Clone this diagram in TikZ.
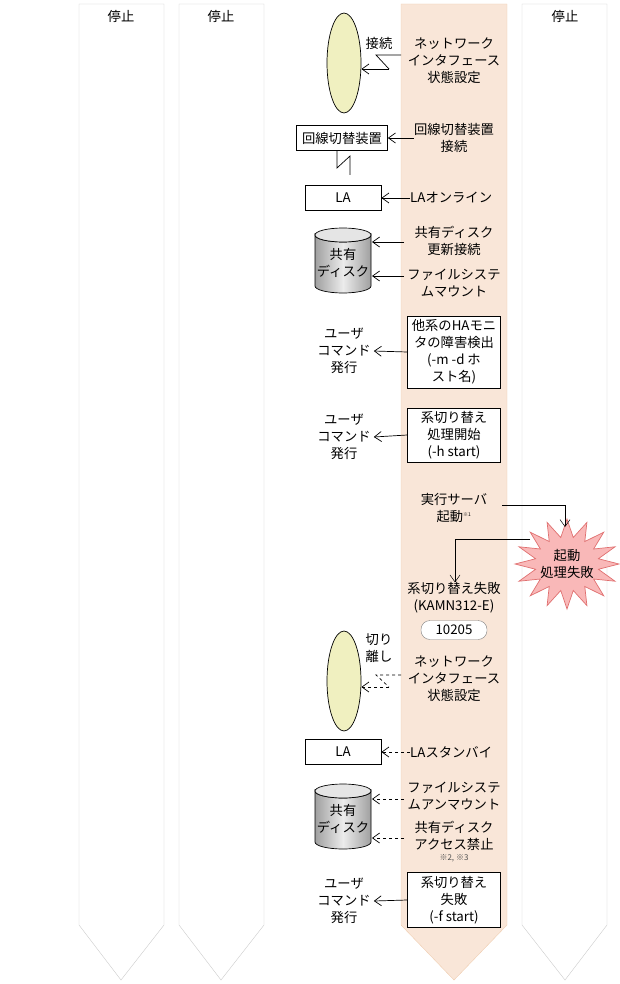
\documentclass[tikz,border=0pt]{standalone}
\usepackage{fontspec}
\setmainfont{Noto Sans CJK JP}
\usetikzlibrary{arrows.meta,shapes.geometric}
\definecolor{lane}{HTML}{CCCCCC}
\definecolor{olane}{HTML}{F9E6D8}
\definecolor{oedge}{HTML}{EFCDB0}
\definecolor{ell}{HTML}{F0F0C0}
\definecolor{burst}{HTML}{F9B8B8}
\definecolor{burstd}{HTML}{E07070}
\tikzset{x=1pt,y=-1pt,
 txt/.style={font=\fontsize{13.3}{17}\selectfont,align=center,inner sep=0},
 box/.style={draw,fill=white,line width=0.7pt},
 arr/.style={-{Straight Barb[length=7pt,width=10pt]},line width=0.7pt},
 darr/.style={arr,dashed},
 ell1/.style={draw,fill=ell,ellipse,minimum width=34pt,minimum height=100pt,line width=0.7pt},
 cylbody/.style={draw,line width=0.7pt,left color=gray!75,right color=gray!75,middle color=gray!15,shading angle=90}}
\newcommand{\mycyl}[2]{% center x, top y
  \path[cylbody] (#1-28,#2+7) -- (#1-28,#2+58) arc[start angle=180,end angle=360,x radius=28,y radius=-7] -- (#1+28,#2+7) arc[start angle=0,end angle=180,x radius=28,y radius=7] -- cycle;
  \draw[line width=0.7pt,fill=gray!20] (#1,#2+7) ellipse[x radius=28,y radius=7];}
\begin{document}
\begin{tikzpicture}
\useasboundingbox (0,0) rectangle (620,984);
\foreach \a/\b/\c in {79/164/121,179/264/221,522/607/565}
  \draw[lane,fill=white] (\a,4) -- (\b,4) -- (\b,925) -- (\c,980) -- (\a,925) -- cycle;
\draw[oedge,fill=olane] (401,4) -- (507,4) -- (507,925) -- (454,980) -- (401,925) -- cycle;
\node[txt] (h1) at (121,16) {停止};
\node[txt] (h2) at (221,16) {停止};
\node[txt] (h4) at (565,16) {停止};
% network 1
\node[ell1] (e1) at (344,63) {};
\node[txt] (c1) at (379,43) {接続};
\node[txt] (n1) at (454,61) {ネットワーク\\インタフェース\\状態設定};
\coordinate (z1) at (376,55); \coordinate (z2) at (389,69);
\draw[line width=0.7pt] (401,55) -- (z1) -- (z2);
\draw[arr] (z2) -- (e1.east|-z2);
% line switch
\node[box,txt,minimum width=91pt,minimum height=25pt] (sw) at (342,138) {回線切替装置};
\node[txt] (swt) at (454,138) {回線切替装置\\接続};
\draw[arr] (swt.west) -- (sw.east);
\node[box,txt,minimum width=76pt,minimum height=25pt] (la1) at (343,198) {LA};
\draw[line width=0.7pt] (337,151) -- (337,168) -- (350,156) -- (350,175);
\node[txt,anchor=west] (lat) at (410,198) {LAオンライン};
\draw[arr] (lat.west) -- (la1.east);
% disk 1
\mycyl{343}{228}
\node[txt] (d1) at (343,263) {共有\\ディスク};
\node[txt] (dk1) at (454,241) {共有ディスク\\更新接続};
\node[txt] (fs1) at (454,283) {ファイルシステ\\ムマウント};
\draw[arr] (404,242) -- (372,242);
\draw[arr] (404,276) -- (372,276);
% HA monitor
\node[box,txt,minimum width=93pt,minimum height=72pt] (ha) at (454,352) {他系のHAモニ\\タの障害検出\\(-m -d ホ\\スト名)};
\node[txt] (u1) at (344,351) {ユーザ\\コマンド\\発行};
\draw[arr] (ha.west) -- ([xshift=3pt]u1.east);
\node[box,txt,minimum width=93pt,minimum height=54pt] (st) at (454,435) {系切り替え\\処理開始\\(-h start)};
\node[txt] (u2) at (344,437) {ユーザ\\コマンド\\発行};
\draw[arr] (st.west) -- ([xshift=3pt]u2.east);
% exec server
\node[txt] (ex) at (454,508) {実行サーバ\\起動\textsuperscript{\tiny ※1}};
\draw[draw=burstd,fill=burst,line width=0.7pt]
  plot[samples at={0,...,31}] ({567+(mod(\x,2)==0 ? 52 : 32)*cos(\x*11.25)},{564+(mod(\x,2)==0 ? 45 : 27)*sin(\x*11.25)}) -- cycle;
\node[txt] (sb) at (567,564) {起動\\処理失敗};
\draw[arr,line width=0.5pt] (502,505) -- (565,505) -- (565,527);
\node[txt] (ff) at (454,598) {系切り替え失敗\\(KAMN312-E)};
\draw[arr,line width=0.5pt] (530,539) -- (455,539) -- (ff.north-|455,0);
\node[draw=gray,rounded corners=9pt,minimum width=66pt,minimum height=19pt,txt,fill=white] (code) at (454,630) {10205};
% network 2
\node[ell1] (e2) at (344,681) {};
\node[txt] (c2) at (379,648) {切り\\離し};
\node[txt] (n2) at (454,679) {ネットワーク\\インタフェース\\状態設定};
\coordinate (y1) at (376,675); \coordinate (y2) at (389,687);
\draw[line width=0.7pt,dashed] (401,675) -- (y1) -- (y2);
\draw[darr] (y2) -- (e2.east|-y2);
\node[box,txt,minimum width=76pt,minimum height=25pt] (la2) at (343,752) {LA};
\node[txt,anchor=west] (lat2) at (410,752) {LAスタンバイ};
\draw[darr] (lat2.west) -- (la2.east);
\mycyl{343}{784}
\node[txt] (d2) at (343,819) {共有\\ディスク};
\node[txt] (fs2) at (454,796) {ファイルシステ\\ムアンマウント};
\node[txt] (dk2) at (454,836) {共有ディスク\\アクセス禁止};
\node[font=\fontsize{8}{9}\selectfont,text=gray!60!black] (nt) at (454,858) {※2, ※3};
\draw[darr] (404,799) -- (372,799);
\draw[darr] (404,838) -- (372,838);
\node[box,txt,minimum width=93pt,minimum height=55pt] (fl) at (454,900) {系切り替え\\失敗\\(-f start)};
\node[txt] (u3) at (344,901) {ユーザ\\コマンド\\発行};
\draw[arr] (fl.west) -- ([xshift=3pt]u3.east);
\end{tikzpicture}
\end{document}
